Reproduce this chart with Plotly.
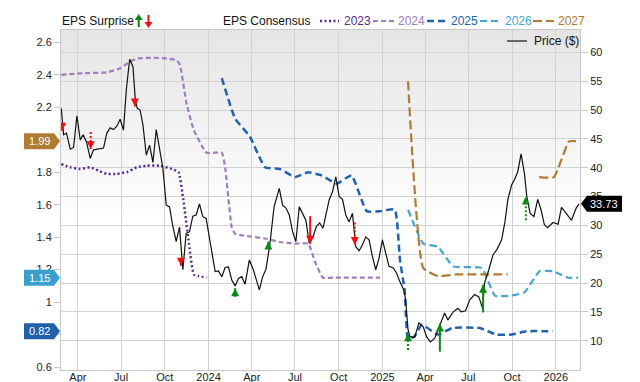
import plotly.graph_objects as go

# ---------------- data ----------------
quarter_ticks = ["2023-04-01", "2023-07-01", "2023-10-01", "2024-01-01", "2024-04-01", "2024-07-01",
                 "2024-10-01", "2025-01-01", "2025-04-01", "2025-07-01", "2025-10-01", "2026-01-01"]
quarter_labels = ["Apr", "Jul", "Oct", "2024", "Apr", "Jul", "Oct", "2025", "Apr", "Jul", "Oct", "2026"]
price_ticks = [10, 15, 20, 25, 30, 35, 40, 45, 50, 55, 60]

price_dates = [
    "2023-02-25", "2023-02-28", "2023-03-02", "2023-03-08", "2023-03-16", "2023-03-23", "2023-03-30",
    "2023-04-06", "2023-04-12", "2023-04-19", "2023-04-27", "2023-05-04", "2023-05-14", "2023-05-25",
    "2023-06-01", "2023-06-08", "2023-06-15", "2023-06-22", "2023-06-29", "2023-07-06", "2023-07-12",
    "2023-07-19", "2023-07-26", "2023-07-31", "2023-08-04", "2023-08-10", "2023-08-16", "2023-08-23",
    "2023-08-30", "2023-09-06", "2023-09-13", "2023-09-20", "2023-09-27", "2023-10-04", "2023-10-11",
    "2023-10-18", "2023-10-25", "2023-11-01", "2023-11-08", "2023-11-15", "2023-11-22", "2023-11-29",
    "2023-12-06", "2023-12-13", "2023-12-20", "2023-12-27", "2024-01-04", "2024-01-15", "2024-01-22",
    "2024-01-29", "2024-02-05", "2024-02-12", "2024-02-19", "2024-02-26", "2024-03-04", "2024-03-11",
    "2024-03-18", "2024-03-27", "2024-04-04", "2024-04-17", "2024-04-24", "2024-05-01", "2024-05-09",
    "2024-05-18", "2024-05-29", "2024-06-05", "2024-06-12", "2024-06-19", "2024-06-26", "2024-07-03",
    "2024-07-10", "2024-07-17", "2024-07-24", "2024-07-31", "2024-08-08", "2024-08-15", "2024-08-22",
    "2024-08-29", "2024-09-11", "2024-09-18", "2024-09-25", "2024-10-02", "2024-10-09", "2024-10-16",
    "2024-10-23", "2024-10-30", "2024-11-06", "2024-11-13", "2024-11-20", "2024-11-27", "2024-12-04",
    "2024-12-11", "2024-12-18", "2024-12-25", "2025-01-01", "2025-01-08", "2025-01-15", "2025-01-24",
    "2025-01-31", "2025-02-07", "2025-02-15", "2025-02-19", "2025-02-24", "2025-02-28", "2025-03-10",
    "2025-03-19", "2025-03-28", "2025-04-04", "2025-04-12", "2025-04-21", "2025-05-02", "2025-05-12",
    "2025-05-19", "2025-05-30", "2025-06-09", "2025-06-16", "2025-06-25", "2025-07-04", "2025-07-14",
    "2025-07-23", "2025-07-31", "2025-08-04", "2025-08-13", "2025-08-22", "2025-08-30", "2025-09-09",
    "2025-09-16", "2025-09-22", "2025-09-30", "2025-10-06", "2025-10-13", "2025-10-20", "2025-10-27",
    "2025-11-01", "2025-11-08", "2025-11-16", "2025-11-24", "2025-12-01", "2025-12-08", "2025-12-15",
    "2025-12-26", "2026-01-06", "2026-01-13", "2026-01-22", "2026-02-03", "2026-02-13", "2026-02-19"]
price_vals = [
    50.3, 46.8, 45.7, 46.0, 43.2, 43.5, 49.0,
    44.8, 45.7, 44.5, 41.6, 43.1, 43.2, 43.4,
    46.0, 46.9, 46.6, 47.2, 48.4, 46.5, 53.5,
    58.8, 57.5, 51.7, 50.3, 50.0, 47.4, 42.2,
    43.9, 40.9, 46.6, 43.1, 39.9, 33.5, 33.2,
    29.8, 27.2, 29.7, 22.3, 28.6, 28.9, 31.6,
    31.8, 33.7, 31.5, 31.2, 27.5, 22.0, 22.1,
    21.1, 22.7, 22.8, 20.5, 19.5, 20.8, 21.1,
    19.8, 24.0, 22.4, 18.8, 21.1, 22.4, 26.6,
    33.2, 36.4, 33.5, 33.0, 31.8, 28.9, 27.2,
    33.2, 32.0, 30.9, 26.9, 28.0, 29.8, 30.4,
    29.5, 34.4, 35.8, 38.4, 35.0, 34.5, 31.8,
    30.6, 32.1, 26.3, 25.6, 26.6, 28.0, 27.5,
    24.6, 22.3, 24.3, 27.5, 25.2, 22.9, 22.6,
    21.7, 20.2, 18.8, 17.1, 11.9, 10.7, 10.6,
    13.1, 12.4, 10.7, 9.8, 10.4, 12.7, 14.8,
    13.6, 15.0, 15.6, 15.0, 15.2, 17.1, 18.0,
    17.6, 15.6, 20.0, 22.3, 24.9, 25.8, 27.5,
    30.6, 34.4, 37.0, 37.9, 39.3, 42.4, 39.0,
    35.0, 32.1, 31.5, 34.5, 32.7, 30.1, 29.6,
    30.5, 30.2, 33.1, 32.1, 30.9, 33.0, 33.73]

eps2023_dates = ["2023-02-25", "2023-03-16", "2023-04-06", "2023-04-27", "2023-05-14", "2023-06-01",
                 "2023-06-22", "2023-07-13", "2023-08-03", "2023-08-24", "2023-09-21", "2023-10-16",
                 "2023-10-30", "2023-11-09", "2023-11-20", "2023-12-01", "2023-12-11", "2023-12-28"]
eps2023_vals = [1.85, 1.83, 1.82, 1.83, 1.81, 1.79, 1.79, 1.80, 1.83, 1.84, 1.84, 1.82,
                1.80, 1.63, 1.38, 1.17, 1.16, 1.15]

eps2024_dates = ["2023-02-25", "2023-04-13", "2023-06-01", "2023-06-29", "2023-07-19", "2023-08-03",
                 "2023-09-07", "2023-10-05", "2023-10-26", "2023-11-02", "2023-11-16", "2023-12-01",
                 "2023-12-28", "2024-01-29", "2024-02-05", "2024-02-19", "2024-02-26", "2024-03-14",
                 "2024-05-02", "2024-05-30", "2024-07-01", "2024-07-29", "2024-08-12", "2024-08-29",
                 "2024-09-19", "2024-12-27"]
eps2024_vals = [2.40, 2.41, 2.415, 2.44, 2.48, 2.50, 2.505, 2.50, 2.49, 2.46, 2.22, 2.06,
                1.92, 1.92, 1.83, 1.46, 1.42, 1.41, 1.39, 1.37, 1.36, 1.36, 1.25, 1.15,
                1.15, 1.15]

eps2025_dates = ["2024-01-29", "2024-02-26", "2024-03-28", "2024-04-29", "2024-05-30", "2024-07-01",
                 "2024-07-29", "2024-08-26", "2024-09-27", "2024-10-28", "2024-11-29", "2024-12-27",
                 "2025-01-27", "2025-02-07", "2025-02-17", "2025-02-24", "2025-03-10", "2025-03-25",
                 "2025-04-28", "2025-05-28", "2025-07-25", "2025-08-29", "2025-09-30", "2025-10-31",
                 "2025-12-26"]
eps2025_vals = [2.38, 2.13, 2.02, 1.83, 1.82, 1.77, 1.80, 1.78, 1.73, 1.78, 1.56, 1.56,
                1.57, 1.26, 1.07, 0.77, 0.79, 0.86, 0.80, 0.84, 0.84, 0.80, 0.80, 0.82,
                0.82]

eps2026_dates = ["2025-02-24", "2025-03-28", "2025-04-28", "2025-05-30", "2025-07-29", "2025-08-26",
                 "2025-09-30", "2025-10-27", "2025-11-28", "2025-12-26", "2026-01-27", "2026-02-17"]
eps2026_vals = [1.57, 1.36, 1.34, 1.22, 1.21, 1.04, 1.04, 1.06, 1.19, 1.19, 1.15, 1.15]

eps2027_dates = ["2025-02-24", "2025-03-28", "2025-04-28", "2025-06-06", "2025-09-22", None,
                 "2025-11-27", "2025-12-28", "2026-01-29", "2026-02-17"]
eps2027_vals = [2.36, 1.21, 1.16, 1.17, 1.17, None, 1.77, 1.77, 1.99, 1.99]

surprise_dates = ["2023-02-27", "2023-04-28", "2023-07-30", "2023-11-04", "2024-02-26", "2024-05-06",
                  "2024-08-02", "2024-11-04", "2025-02-24", "2025-05-02", "2025-08-01", "2025-10-30"]
surprise_tip = [46.4, 43.2, 50.6, 23.0, 19.1, 27.2, 26.8, 26.6, 11.3, 13.0, 19.7, 35.0]
surprise_tail = [47.7, 46.2, 52.0, 24.3, 17.6, 26.0, 31.6, 30.5, 8.4, 8.1, 14.9, 30.9]
surprise_dotted = [False, True, False, False, False, False, False, True, True, False, False, True]

series_names = ["2023", "2024", "2025", "2026", "2027"]
badge_vals = [1.99, 1.15, 0.82]
badge_labels = ["1.99", "1.15", "0.82"]
price_last_label = "33.73"

# ---------------- style ----------------
FONT = "Liberation Sans, Arial, Helvetica, sans-serif"
C = {"2023": "#5b2a8c", "2024": "#a07dc0", "2025": "#2162ad", "2026": "#43a4d3", "2027": "#b07b33"}
DASH = {"2023": "2px,2.5px", "2024": "5px,3px", "2025": "7px,4px", "2026": "7px,4px", "2027": "9px,4px"}
WID = {"2023": 2.5, "2024": 2.2, "2025": 2.5, "2026": 2.2, "2027": 2.2}
badge_colors = [C["2027"], "#3a9fcc", "#1f5fab"]
GREEN = "#0b8a12"
RED = "#f01010"
GRID = "#d2d2d2"

L, R, T, B = 61, 60, 30, 12
W, H = 640, 382
PW, PH = W - L - R, H - T - B


def px_x(px):
    return (px - L) / PW


def px_y(py):
    return (H - B - py) / PH


fig = go.Figure()

series = {
    "2023": (eps2023_dates, eps2023_vals),
    "2024": (eps2024_dates, eps2024_vals),
    "2025": (eps2025_dates, eps2025_vals),
    "2026": (eps2026_dates, eps2026_vals),
    "2027": (eps2027_dates, eps2027_vals),
}
for name in series_names:
    xs, ys = series[name]
    fig.add_trace(go.Scatter(
        x=xs, y=ys, mode="lines", yaxis="y", showlegend=False, hoverinfo="skip",
        connectgaps=False,
        line=dict(color=C[name], width=WID[name], dash=DASH[name], shape="spline", smoothing=0.4)))

fig.add_trace(go.Scatter(
    x=price_dates, y=price_vals, mode="lines", yaxis="y2", showlegend=False, hoverinfo="skip",
    line=dict(color="#111111", width=1.2)))

for d, tip, tail, dotted in zip(surprise_dates, surprise_tip, surprise_tail, surprise_dotted):
    beat = tip > tail
    col = GREEN if beat else RED
    fig.add_trace(go.Scatter(
        x=[d, d], y=[tail, tip], mode="lines", yaxis="y2", showlegend=False, hoverinfo="skip",
        line=dict(color=col, width=2, dash="2px,2px" if dotted else "solid")))
    fig.add_trace(go.Scatter(
        x=[d], y=[tip], mode="markers", yaxis="y2", showlegend=False, hoverinfo="skip",
        marker=dict(symbol="arrow-up" if beat else "arrow-down", size=8, color=col,
                    line=dict(width=0))))

shapes = []
# background gradient (top grey fading to white)
N = 40
top_rgb = (229, 229, 229)
for i in range(N):
    t = (i + 1) / N
    rgb = tuple(round(255 + (c - 255) * t) for c in top_rgb)
    y0 = 0.45 + 0.55 * i / N
    y1 = 0.45 + 0.55 * (i + 1) / N + 0.002
    shapes.append(dict(type="rect", xref="paper", yref="paper", x0=0, x1=1, y0=y0, y1=min(y1, 1),
                       fillcolor="rgb(%d,%d,%d)" % rgb, line=dict(width=0), layer="below"))

# legend swatches
sw = [(320, 339), (373, 394), (427, 447), (480, 499), (533, 554)]
txt_x = [343, 397, 450, 504, 557]
ly = 21
for name, (a, b) in zip(series_names, sw):
    shapes.append(dict(type="line", xref="paper", yref="paper", x0=px_x(a), x1=px_x(b),
                       y0=px_y(ly), y1=px_y(ly),
                       line=dict(color=C[name], width=WID[name], dash=DASH[name])))
# price legend line
shapes.append(dict(type="line", xref="paper", yref="paper", x0=px_x(507), x1=px_x(527),
                   y0=px_y(41), y1=px_y(41), line=dict(color="#666666", width=2)))
# legend arrows
shapes.append(dict(type="path", xref="paper", yref="paper", xsizemode="pixel", ysizemode="pixel",
                   xanchor=px_x(138.7), yanchor=px_y(ly),
                   path="M-1,-6 L1,-6 L1,1 L4,1 L0,7 L-4,1 L-1,1 Z",
                   fillcolor=GREEN, line=dict(width=0)))
shapes.append(dict(type="path", xref="paper", yref="paper", xsizemode="pixel", ysizemode="pixel",
                   xanchor=px_x(148.5), yanchor=px_y(ly),
                   path="M-1,6 L1,6 L1,-1 L4,-1 L0,-7 L-4,-1 L-1,-1 Z",
                   fillcolor=RED, line=dict(width=0)))
# value badges on left axis
for v, col in zip(badge_vals, badge_colors):
    shapes.append(dict(type="path", xref="paper", yref="y", xsizemode="pixel", ysizemode="pixel",
                       xanchor=0, yanchor=v, layer="above",
                       path="M-37,-8 L-7,-8 L-1,0 L-7,8 L-37,8 Z",
                       fillcolor=col, line=dict(width=0)))
# price badge on right axis
shapes.append(dict(type="path", xref="paper", yref="y2", xsizemode="pixel", ysizemode="pixel",
                   xanchor=1, yanchor=price_vals[-1], layer="above",
                   path="M1,0 L7,-8 L42,-8 L42,8 L7,8 Z",
                   fillcolor="#000000", line=dict(width=0)))

annotations = []
annotations.append(dict(text="EPS Surprise", xref="paper", yref="paper", x=px_x(60), y=px_y(ly),
                        xanchor="left", yanchor="middle", showarrow=False,
                        font=dict(size=12, color="#111", family=FONT)))
annotations.append(dict(text="EPS Consensus", xref="paper", yref="paper", x=px_x(221), y=px_y(ly),
                        xanchor="left", yanchor="middle", showarrow=False,
                        font=dict(size=12, color="#111", family=FONT)))
for name, tx in zip(series_names, txt_x):
    annotations.append(dict(text=name, xref="paper", yref="paper", x=px_x(tx - 1), y=px_y(ly),
                            xanchor="left", yanchor="middle", showarrow=False,
                            font=dict(size=12, color=C[name], family=FONT)))
annotations.append(dict(text="Price ($)", xref="paper", yref="paper", x=px_x(532), y=px_y(41),
                        xanchor="left", yanchor="middle", showarrow=False,
                        font=dict(size=12, color="#111", family=FONT)))
for v, lab in zip(badge_vals, badge_labels):
    annotations.append(dict(text=lab, xref="paper", yref="y", x=0, y=v, xshift=-22,
                            xanchor="center", yanchor="middle", showarrow=False,
                            font=dict(size=11, color="#ffffff", family=FONT)))
annotations.append(dict(text=price_last_label, xref="paper", yref="y2", x=1, y=price_vals[-1], xshift=24,
                        xanchor="center", yanchor="middle", showarrow=False,
                        font=dict(size=11, color="#ffffff", family=FONT)))

fig.update_layout(
    width=W, height=H, margin=dict(l=L, r=R, t=T, b=B, autoexpand=False),
    paper_bgcolor="#ffffff", plot_bgcolor="#ffffff",
    font=dict(family=FONT, size=11, color="#222222"),
    showlegend=False,
    shapes=shapes, annotations=annotations,
    xaxis=dict(type="date", range=["2023-02-24 12:00", "2026-02-21"],
               tickmode="array", tickvals=quarter_ticks, ticktext=quarter_labels,
               showgrid=True, gridcolor=GRID, gridwidth=1, zeroline=False,
               showline=True, mirror=True, linecolor="#c8c8c8", linewidth=1,
               ticks="", ticklabelstandoff=-3,
               tickfont=dict(size=11, color="#222"), automargin=False),
    yaxis=dict(range=[0.5815, 2.676], tickmode="linear", tick0=0.6, dtick=0.2,
               showgrid=False, zeroline=False, showline=True, mirror=True,
               linecolor="#c8c8c8", linewidth=1, ticks="outside", ticklen=6, tickcolor="#c8c8c8",
               tickfont=dict(size=11, color="#222"), automargin=False),
    yaxis2=dict(range=[4.92, 63.87], overlaying="y", side="right", tickmode="array",
                tickvals=price_ticks, showgrid=True, gridcolor=GRID, gridwidth=1, zeroline=False,
                showline=False, ticks="outside", ticklen=7, tickcolor="#c8c8c8",
                tickfont=dict(size=11, color="#222"), automargin=False),
)

fig.write_html("out.html", config={"displayModeBar": False},
               post_script="document.body.style.margin='0px';document.body.style.overflow='hidden';")
